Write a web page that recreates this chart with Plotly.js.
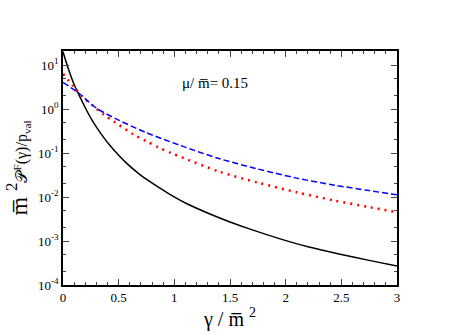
<!DOCTYPE html>
<html>
<head>
<meta charset="utf-8">
<script src="https://cdn.plot.ly/plotly-3.0.1.min.js"></script>
<style>
  body { margin: 0; background: #fff; }
  #myDiv { width: 474px; height: 335px; }
</style>
</head>
<body>
<div id="myDiv"></div>
<script>
// values (log scale)
var xBlack = [0, 0.05, 0.1, 0.123, 0.15, 0.2, 0.27, 0.35, 0.42, 0.5, 0.57, 0.7, 0.85, 0.96, 1.1, 1.32, 1.5, 1.68, 1.95, 2.2, 2.49, 2.75, 3];
var yBlack = [20, 7.9, 3.6, 2.7, 1.95, 1.07, 0.51, 0.255, 0.15, 0.089, 0.059, 0.031, 0.0172, 0.0115, 0.0073, 0.0041, 0.0027, 0.00186, 0.00112, 0.00074, 0.0005, 0.000363, 0.00027];

var xRed = [0, 0.093, 0.177, 0.272, 0.371, 0.467, 0.632, 0.746, 0.856, 0.97, 1.09, 1.4, 1.755, 2.1, 2.44, 2.75, 3];
var yRed = [6.3, 3.3, 1.9, 1.17, 0.73, 0.5, 0.266, 0.187, 0.135, 0.1, 0.076, 0.038, 0.0211, 0.0128, 0.0083, 0.0059, 0.0045];

var xBlue = [0, 0.15, 0.3, 0.5, 0.75, 1.05, 1.4, 1.74, 2.1, 2.44, 2.75, 3];
var yBlue = [4.07, 2.2, 1.05, 0.56, 0.29, 0.15, 0.075, 0.044, 0.0269, 0.0186, 0.014, 0.0112];

var yTickVals = [1e-4, 1e-3, 1e-2, 1e-1, 1, 10];
var yTickText = ['10<sup>-4</sup>', '10<sup>-3</sup>', '10<sup>-2</sup>', '10<sup>-1</sup>', '10<sup>0</sup>', '10<sup>1</sup>'];

var data = [{
  x: xBlack, y: yBlack,
  mode: 'lines', type: 'scatter',
  line: {color: 'black', width: 1.5, shape: 'spline', smoothing: 0.8}
}, {
  x: xRed, y: yRed,
  mode: 'lines', type: 'scatter',
  line: {color: 'red', width: 2.5, dash: '2px,5px', shape: 'spline', smoothing: 0.8}
}, {
  x: xBlue, y: yBlue,
  mode: 'lines', type: 'scatter',
  line: {color: 'blue', width: 1.5, dash: '6px,3px', shape: 'spline', smoothing: 0.8}
}];

var serif = "'Liberation Serif', 'Times New Roman', serif";

var layout = {
  width: 474,
  height: 335,
  showlegend: false,
  paper_bgcolor: 'white',
  plot_bgcolor: 'white',
  margin: {l: 63, r: 77, t: 51, b: 50},
  font: {family: serif, color: 'black', size: 12},
  xaxis: {
    range: [0, 3],
    dtick: 0.5,
    ticks: 'inside', ticklen: 6, tickwidth: 1,
    minor: {dtick: 0.1, ticks: 'inside', ticklen: 3, tickwidth: 1, showgrid: false},
    showgrid: false, zeroline: false,
    showline: true, linecolor: 'black', linewidth: 1.5, mirror: 'ticks',
    tickfont: {family: serif, size: 13},
    title: {text: 'γ / m̅ <sup>2</sup>', font: {family: serif, size: 20}, standoff: 4}
  },
  yaxis: {
    type: 'log',
    range: [-4, 1.32],
    tickvals: yTickVals, ticktext: yTickText,
    ticks: 'inside', ticklen: 6, tickwidth: 1,
    minor: {ticks: 'inside', ticklen: 3, tickwidth: 1, showgrid: false},
    showgrid: false, zeroline: false,
    showline: true, linecolor: 'black', linewidth: 1.5, mirror: 'ticks',
    tickfont: {family: serif, size: 13},
    title: {
      text: '<span style="font-size:24px">m̅ <sup>2</sup></span>𝒫<sup>F</sup>(γ)/p<sub>val</sub>',
      font: {family: serif, size: 16}, standoff: 6
    }
  },
  annotations: [{
    xref: 'paper', yref: 'paper',
    x: 0.455, y: 0.905,
    text: 'μ/ m̅= 0.15',
    showarrow: false,
    font: {family: serif, size: 15}
  }]
};

Plotly.newPlot('myDiv', data, layout, {displayModeBar: false});
</script>
</body>
</html>
